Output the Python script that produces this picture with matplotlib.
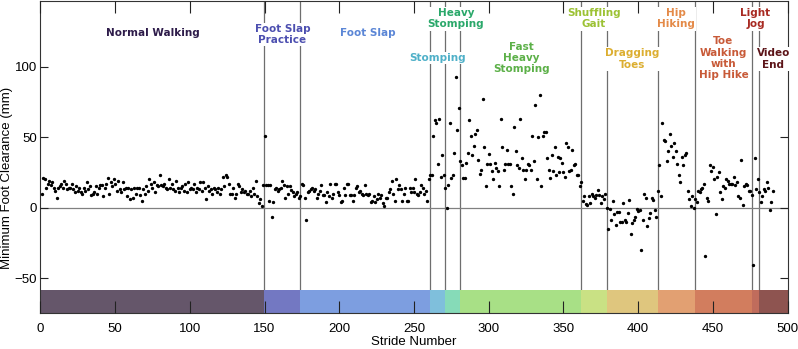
import numpy as np
import matplotlib.pyplot as plt

# minimum foot clearance (mm) per stride, grouped by activity
normal_walking = [10, 21, 20, 14, 17, 19, 16, 18, 14, 12, 7, 14, 15,
                  17, 14, 19, 17, 13, 14, 14, 17, 13, 11, 15, 12, 14, 11,
                  10, 14, 12, 18, 13, 15, 9, 10, 11, 15, 10, 14, 16,
                  16, 8, 14, 17, 21, 10, 18, 15, 20, 17, 12, 19, 13,
                  11, 18, 13, 14, 8, 14, 6, 13, 7, 14, 10, 14, 14, 9,
                  5, 13, 10, 15, 12, 20, 17, 14, 18, 11, 16, 15, 23, 16,
                  15, 17, 14, 13, 20, 14, 17, 13, 12, 19, 14, 11, 14,
                  15, 12, 17, 11, 18, 13, 14, 13, 17, 11, 14, 13, 18, 12,
                  18, 14, 6, 15, 12, 13, 10, 14, 13, 11, 14, 10, 13,
                  22, 15, 23, 22, 17, 10, 10, 14, 7, 10, 17, 15, 11, 13, 11,
                  12, 10, 10, 12, 8, 14, 10, 19, 8, 3, 6, 1, 16]
foot_slap_practice = [51, 16, 16, 5, 16, -7, 4, 13, 14, 12, 13, 14, 19,
                      16, 7, 15, 10, 15, 12.5, 11, 8.5, 10, 11, 7, 8]
foot_slap = [17, 16, 7, -9, 11, 12, 13, 14, 12, 13, 7, 10, 12, 16, 9, 9,
             4, 11, 8, 17, 7, 10, 17, 17, 11, 9, 4, 5, 14, 9, 17, 17, 9,
             9, 5, 9, 14, 15, 11, 12, 10, 9, 16, 10, 9, 10, 4, 5, 8, 4,
             6, 10, 7, 9, 3, 1, 7, 7, 11, 13, 19, 10, 5, 20, 13, 16, 13,
             5, 10, 14, 5, 5, 14, 11, 14, 11, 20, 10, 9, 11, 16, 14, 10,
             12, 5, 20, 23]
stomping = [23, 51, 62, 60, 31, 63, 22, 37, 23, 14]
heavy_stomping = [0, 16, 60, 21, 23, 39, 93, 55, 71, 33]
fast_heavy_stomping = [30, 21, 21, 32, 39, 62, 51, 37, 44, 52, 55, 34, 24,
                       27, 77, 43, 15, 31, 38, 31, 26, 20, 32, 28, 26, 15,
                       63, 43, 27, 31, 41, 31, 31, 15, 10, 57, 40, 30, 28,
                       63, 35, 27, 20, 27, 31, 30, 27, 51, 33, 73, 20, 50,
                       80, 15, 51, 54, 54, 35, 27, 21, 37, 26, 43, 23, 36,
                       25, 35, 32, 25, 22, 46, 43, 26, 27, 41, 30, 31, 23,
                       23, 15, 18]
shuffling_gait = [4.5, 8, 2.6, 2, 8, 3.3, 10, 8, 7, 9, 12.5, 9, 3, 8, 6,
                  10, -0.5]
dragging_toes = [-15, -1, -9, 5, -4.5, -12, -3, -3, -10, -10, 3, -9, -10,
                 -3.5, 5.6, -19, -11, -9, -7, -1, -2.6, -1.4, -30, -9, 10,
                 7, -13, -7.5, -3.7, 7, 5.4, -1.4, -7, 11.5]
hip_hiking = [30, 8, 60, 48, 47, 33, 40, 52, 44, 36, 46, 40, 31, 23, 18,
              36, 30, 37, 39, 12, 6, 1, 8, 0, 6]
toe_walking_hip_hike = [4, 11.5, 11, 13, 14, 17, -34, 7, 4.5, 30, 26, 29,
                        20, -4.5, 22, 25, 11, 6, 15, 14, 20, 19, 17, 17,
                        17, 22, 16, 18, 8, 7, 34, 2, 15, 17, 16, 12, 12, 9]
light_jog = [-41, 35, 13, 20, 11]
video_end = [4, 8.5, 13, 12, 18, 14, -1.4, 4, 12]

activities = ['Normal Walking', 'Foot Slap\nPractice', 'Foot Slap', 'Stomping',
              'Heavy\nStomping', 'Fast\nHeavy\nStomping', 'Shuffling\nGait',
              'Dragging\nToes', 'Hip\nHiking', 'Toe\nWalking\nwith\nHip Hike',
              'Light\nJog', 'Video\nEnd']
boundaries = [0, 149.5, 174, 261, 271, 281, 362, 379, 413, 438, 476, 481, 500]
label_x = [75, 162, 219, 266, 278, 322, 370.5, 396, 425.5, 457, 478.5, 490.5]
label_y = [124, 123, 124, 106, 134, 106, 134, 105.5, 134, 106, 134, 105.5]

band_colors = ['#65566a', '#7378c2', '#7d9ee0', '#7fbfdc', '#86dbb8', '#a8e086',
               '#c9e184', '#dfc67e', '#e2a072', '#d27d5e', '#c06c5c', '#8e5450']
text_colors = ['#2e1c4a', '#4c4fb0', '#5b86d6', '#4fb0c8', '#2aa86a', '#5cb048',
               '#9cc234', '#dcae30', '#e48a48', '#c85a38', '#a82a22', '#5c1418']

segments = [normal_walking, foot_slap_practice, foot_slap, stomping,
            heavy_stomping, fast_heavy_stomping, shuffling_gait, dragging_toes,
            hip_hiking, toe_walking_hip_hike, light_jog, video_end]
clearance = np.concatenate([np.asarray(s, dtype=float) for s in segments])
stride = np.arange(1, len(clearance) + 1)

ymin, ymax = -75, 147
band_top = -58.5

fig = plt.figure(figsize=(7.98, 3.49), dpi=100)
ax = fig.add_axes([40.3 / 798, 35.7 / 349, 747.4 / 798, 312.8 / 349])

# activity boundaries and zero line
ax.vlines(boundaries[1:-1], band_top, ymax, color='#6e6e6e', lw=0.9, zorder=1)
ax.axhline(0, color='#808080', lw=0.9, zorder=1)

# colour band along the bottom
left = np.array(boundaries[:-1])
width = np.diff(boundaries)
ax.bar(left, band_top - ymin, width=width, bottom=ymin, align='edge',
       color=band_colors, edgecolor='none', zorder=2)

ax.plot(stride, clearance, 'k.', markersize=2.8, zorder=3)

for name, x, y, c in zip(activities, label_x, label_y, text_colors):
    ax.text(x, y, name, ha='center', va='center', fontsize=7.5,
            fontweight='bold', color=c, linespacing=1.15, zorder=5,
            bbox=dict(facecolor='white', edgecolor='none', pad=0.8))

ax.set_xlim(0, 500)
ax.set_ylim(ymin, ymax)
ax.set_xticks(np.arange(0, 501, 50))
ax.set_yticks([-50, 0, 50, 100])
ax.set_axisbelow(False)
ax.tick_params(direction='in', top=True, right=True, labelsize=9.5,
               color='#222222', width=0.8)
ax.tick_params(axis='x', length=8.4, pad=7)
ax.tick_params(axis='y', length=5.8, pad=2.5)
for lab in ax.get_xticklabels() + ax.get_yticklabels():
    lab.set_family('Liberation Sans')
for sp in ax.spines.values():
    sp.set_color('#333333')
    sp.set_linewidth(0.8)

ax.set_xlabel('Stride Number', fontsize=9.5, family='Liberation Sans')
ax.set_ylabel('Minimum Foot Clearance (mm)', fontsize=9.5, family='Liberation Sans')
ax.xaxis.set_label_coords(0.5, -0.074)
ax.yaxis.set_label_coords(-0.036, 0.433)

fig.savefig('out.png', dpi=100)
